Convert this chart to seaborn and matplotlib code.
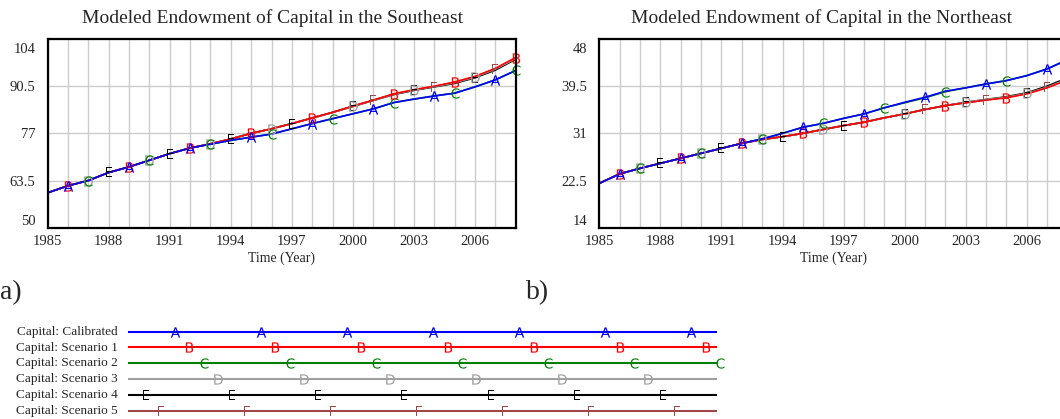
import matplotlib
matplotlib.use("Agg")
import matplotlib.pyplot as plt
import matplotlib.transforms as mtransforms
import numpy as np
import pandas as pd
import seaborn as sns

# ---------------- data ----------------
years = list(range(1985, 2009))
series_names = ["Capital: Calibrated", "Capital: Scenario 1", "Capital: Scenario 2",
                "Capital: Scenario 3", "Capital: Scenario 4", "Capital: Scenario 5"]
letters = ["A", "B", "C", "D", "E", "F"]
colors = ["#0000FF", "#FF0000", "#008000", "#A0A0A0", "#000000", "#A04848"]

# Southeast
se_calibrated = [60.0, 62.0, 63.5, 65.8, 67.4, 69.3, 71.2, 72.8, 73.9, 75.0, 75.9, 76.8,
                 78.3, 79.8, 81.2, 82.6, 84.0, 85.8, 86.8, 87.7, 88.5, 90.3, 92.3, 95.0]
se_scenario1 = [60.0, 62.0, 63.5, 65.8, 67.4, 69.3, 71.2, 72.8, 74.0, 75.4, 77.0, 78.3,
                79.8, 81.4, 83.0, 84.8, 86.5, 88.3, 89.5, 90.5, 91.7, 93.3, 95.6, 98.7]
se_scenario2 = [60.0, 62.0, 63.5, 65.8, 67.4, 69.3, 71.2, 72.8, 73.9, 75.0, 75.9, 76.8,
                78.3, 79.8, 81.2, 82.6, 84.0, 85.8, 86.8, 87.7, 88.5, 90.3, 92.3, 95.0]
se_scenario3 = [60.0, 62.0, 63.5, 65.8, 67.4, 69.3, 71.2, 72.8, 74.0, 75.4, 77.0, 78.3,
                79.8, 81.4, 83.0, 84.7, 86.4, 88.2, 89.4, 90.4, 91.5, 93.1, 95.4, 98.4]
se_scenario4 = [60.0, 62.0, 63.5, 65.8, 67.4, 69.3, 71.2, 72.8, 74.0, 75.4, 77.0, 78.3,
                79.8, 81.4, 83.0, 84.7, 86.4, 88.1, 89.3, 90.3, 91.3, 92.9, 95.1, 98.2]
se_scenario5 = [60.0, 62.0, 63.5, 65.8, 67.4, 69.3, 71.2, 72.8, 74.0, 75.4, 77.0, 78.3,
                79.8, 81.4, 83.0, 84.8, 86.5, 88.2, 89.4, 90.4, 91.6, 93.2, 95.4, 98.5]

# Northeast
ne_calibrated = [22.0, 23.7, 24.7, 25.6, 26.5, 27.4, 28.3, 29.2, 30.0, 31.0, 32.1, 32.8,
                 33.7, 34.5, 35.6, 36.6, 37.5, 38.6, 39.2, 39.9, 40.5, 41.4, 42.6, 44.3]
ne_scenario1 = [22.0, 23.7, 24.7, 25.6, 26.5, 27.4, 28.3, 29.2, 29.9, 30.4, 31.0, 31.7,
                32.4, 33.0, 33.8, 34.5, 35.3, 36.0, 36.5, 37.0, 37.4, 38.1, 39.2, 40.6]
ne_scenario2 = [22.0, 23.7, 24.7, 25.6, 26.5, 27.4, 28.3, 29.2, 30.0, 31.0, 32.1, 32.8,
                33.7, 34.5, 35.6, 36.5, 37.4, 38.5, 39.2, 39.9, 40.5, 41.4, 42.6, 44.2]
ne_scenario3 = [22.0, 23.7, 24.7, 25.6, 26.5, 27.4, 28.3, 29.2, 29.9, 30.4, 31.0, 31.7,
                32.4, 33.0, 33.8, 34.5, 35.3, 36.0, 36.6, 37.1, 37.5, 38.2, 39.3, 40.8]
ne_scenario4 = [22.0, 23.7, 24.7, 25.6, 26.5, 27.4, 28.3, 29.2, 29.9, 30.4, 31.0, 31.7,
                32.4, 33.0, 33.8, 34.5, 35.3, 36.0, 36.6, 37.1, 37.6, 38.3, 39.5, 41.0]
ne_scenario5 = [22.0, 23.7, 24.7, 25.6, 26.5, 27.4, 28.3, 29.2, 29.9, 30.4, 31.0, 31.7,
                32.4, 33.0, 33.8, 34.5, 35.3, 36.0, 36.5, 37.0, 37.5, 38.2, 39.3, 40.7]

# years at which each series carries its letter marker
marker_years = [
    [1986, 1989, 1992, 1995, 1998, 2001, 2004, 2007],
    [1986, 1989, 1992, 1995, 1998, 2002, 2005, 2008],
    [1987, 1990, 1993, 1996, 1999, 2002, 2005, 2008],
    [1987, 1990, 1993, 1996, 2000, 2003, 2006],
    [1988, 1991, 1994, 1997, 2000, 2003, 2006],
    [1988, 1991, 1994, 1997, 2001, 2004, 2007],
]

se_title = "Modeled Endowment of Capital in the Southeast"
ne_title = "Modeled Endowment of Capital in the Northeast"
se_yticks = [50, 63.5, 77, 90.5, 104]
ne_yticks = [14, 22.5, 31, 39.5, 48]
x_label = "Time (Year)"
panel_labels = ["a)", "b)"]

# ---------------- style ----------------
sns.set_theme(style="white")
plt.rcParams["font.family"] = ["Liberation Serif", "DejaVu Serif"]
plt.rcParams["mathtext.fontset"] = "dejavusans"

W, H = 1060, 419
fig = plt.figure(figsize=(W / 100, H / 100), dpi=100)
MS = 55


def fx(px):
    return px / W


def fy(py):
    return 1 - py / H


def draw_panel(left_px, values, yticks, title, title_x):
    ax = fig.add_axes([fx(left_px), fy(227.7), fx(468), fy(39) - fy(227.7)])
    df = pd.DataFrame({
        "year": np.tile(years, len(series_names)),
        "value": np.concatenate(values),
        "series": np.repeat(series_names, len(years)),
    })
    order = series_names[::-1]
    pal = dict(zip(series_names, colors))
    sns.lineplot(data=df, x="year", y="value", hue="series", hue_order=order,
                 palette=pal, linewidth=1.2, legend=False, ax=ax, zorder=3)
    for i in reversed(range(len(series_names))):
        yrs = marker_years[i]
        vals = [values[i][years.index(y)] for y in yrs]
        sns.scatterplot(x=yrs, y=vals, marker=r"$\mathsf{%s}$" % letters[i],
                        s=MS, color=colors[i], linewidth=0, ax=ax, zorder=4,
                        clip_on=False)
    ax.set_xlim(1985, 2008)
    ax.set_ylim(yticks[0], yticks[-1])
    ax.set_xticks(list(range(1985, 2008, 3)))
    ax.set_xticks(years, minor=True)
    ax.set_yticks(yticks)
    ax.set_yticklabels([("%g" % v) for v in yticks])
    ax.grid(True, which="both", color="#CCCCCC", linewidth=1.0)
    ax.tick_params(which="both", length=0, labelsize=10.5)
    ax.tick_params(axis="y", pad=9)
    ax.tick_params(axis="x", pad=5)
    for s in ax.spines.values():
        s.set_color("black")
        s.set_linewidth(1.6)
        s.set_zorder(5)
    ax.set_xlabel(x_label, fontsize=10, labelpad=3)
    ax.set_ylabel("")
    ax.set_axisbelow(True)
    fig.canvas.draw()
    lbls = ax.get_yticklabels()
    lbls[-1].set_transform(lbls[-1].get_transform() +
                           mtransforms.ScaledTranslation(0, -9 / 100, fig.dpi_scale_trans))
    lbls[0].set_transform(lbls[0].get_transform() +
                          mtransforms.ScaledTranslation(0, 8 / 100, fig.dpi_scale_trans))
    fig.text(fx(title_x), fy(18.5), title, ha="center", va="center", fontsize=14)
    return ax


draw_panel(47.7, [se_calibrated, se_scenario1, se_scenario2, se_scenario3, se_scenario4,
                  se_scenario5], se_yticks, se_title, 273)
draw_panel(599.4, [ne_calibrated, ne_scenario1, ne_scenario2, ne_scenario3, ne_scenario4,
                   ne_scenario5], ne_yticks, ne_title, 822)

fig.text(fx(0), fy(293), panel_labels[0], ha="left", va="center", fontsize=20)
fig.text(fx(526), fy(293), panel_labels[1], ha="left", va="center", fontsize=20)

# ---------------- legend ----------------
lx0, lx1 = 128, 717
lax = fig.add_axes([fx(lx0), fy(419), fx(lx1 - lx0), fy(322) - fy(419)])
lax.set_xlim(0, lx1 - lx0)
lax.set_ylim(419, 322)
lax.axis("off")
row_y = [331.7, 347.5, 363.3, 379.1, 394.9, 410.7]
phase = [2, 3, 4, 5, 0, 1]  # E first, then F, A, B, C, D
step = 86.1 / 6
for i, name in enumerate(series_names):
    lax.plot([0, lx1 - lx0], [row_y[i], row_y[i]], color=colors[i], lw=1.5,
             solid_capstyle="butt")
    xs = np.arange(18.2 + phase[i] * step, lx1 - lx0 + 6, 86.1)
    lax.scatter(xs, [row_y[i]] * len(xs), marker=r"$\mathsf{%s}$" % letters[i],
                s=MS, color=colors[i], linewidths=0, clip_on=False, zorder=3)
    lax.text(-10, row_y[i], name, ha="right", va="center", fontsize=9.5)

fig.savefig("out.png", dpi=100)
